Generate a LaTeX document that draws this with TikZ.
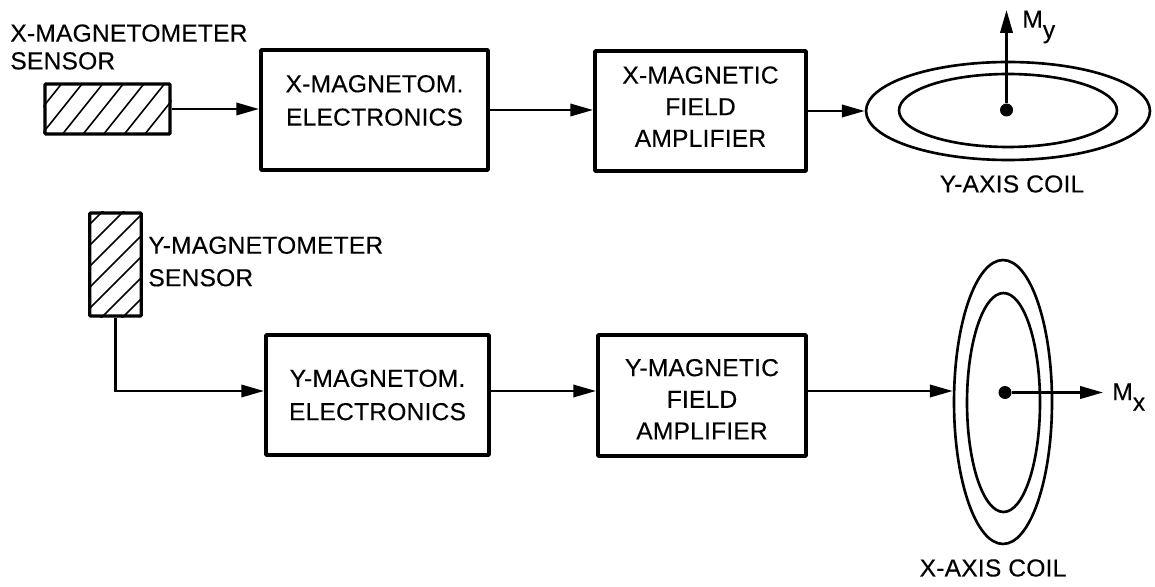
\documentclass[tikz,border=0pt]{standalone}
\usepackage{fontspec}
\setmainfont[LetterSpace=0.8,FakeBold=0.25]{Liberation Sans}
\usetikzlibrary{arrows.meta,shapes.geometric}

\newcommand{\lift}[1]{\rule[-#1]{0pt}{0pt}}
\newcommand{\drop}[1]{\rule{0pt}{#1}}

\tikzset{
  blockbox/.style={draw, line width=2.2pt, rounded corners=0.5pt, inner sep=0pt, align=center},
  sensorbox/.style={draw, line width=1.8pt, rounded corners=0.5pt, inner sep=0pt},
  coil/.style={draw, ellipse, line width=1.5pt, inner sep=0pt},
  hatch/.style={line width=0.9pt},
  caption/.style={inner sep=0pt, align=left},
  dotnode/.style={circle, fill, inner sep=0pt, minimum size=0.26cm},
  wire/.style={-{Triangle[length=13pt,width=7pt]}, line width=1.5pt}
}

\begin{document}
\begin{tikzpicture}[x=0.02cm, y=-0.02cm, font=\fontsize{14}{16}\selectfont]
  \useasboundingbox (0,0) rectangle (1155,587);
  \coordinate (yrow) at (0,391);

  % sensors
  \node[sensorbox, minimum width=2.5cm, minimum height=1cm] (xsensor) at (107.5,109) {};
  \node[sensorbox, minimum width=1.03cm, minimum height=2.06cm] (ysensor) at (115.5,264.5) {};
  \begin{scope}
    \clip (xsensor.south west) rectangle (xsensor.north east);
    \foreach \i in {-1,...,5}
      \draw[hatch] ({42+20.6*\i},134) -- ({82+20.6*\i},84);
  \end{scope}
  \begin{scope}
    \clip (ysensor.south west) rectangle (ysensor.north east);
    \foreach \i in {0,...,6}
      \draw[hatch] (89,{225+21*\i}) -- (141,{173+21*\i});
  \end{scope}
  \node[caption, anchor=west] (xsensortext) at (10,47) {X-MAGNETOMETER\\[-0.2pt]SENSOR};
  \node[caption, anchor=west] (ysensortext) at (148,261.5) {Y-MAGNETOMETER\\[2.5pt]SENSOR};

  % electronics and amplifiers
  \node[blockbox, minimum width=4.54cm, minimum height=2.4cm] (xelec) at (374.5,110) {X-MAGNETOM.\\[3pt]ELECTRONICS\lift{11pt}};
  \node[blockbox, minimum width=4.22cm, minimum height=2.4cm] (xamp) at (700.5,111) {X-MAGNETIC\\[2pt]FIELD\\[2pt]AMPLIFIER\lift{5pt}};
  \node[blockbox, minimum width=4.46cm, minimum height=2.4cm] (yelec) at (377.5,395) {Y-MAGNETOM.\\[3pt]ELECTRONICS};
  \node[blockbox, minimum width=4.16cm, minimum height=2.42cm] (yamp) at (702,395.5) {\drop{14pt}Y-MAGNETIC\\[2pt]FIELD\\[2pt]AMPLIFIER};

  % coils
  \node[coil, minimum width=5.68cm, minimum height=1.96cm] (ycoil) at (1008,111) {};
  \node[coil, minimum width=4.36cm, minimum height=1.46cm] (ycoilin) at (1008,110.5) {};
  \node[coil, minimum width=1.96cm, minimum height=5.68cm] (xcoil) at (1003,402) {};
  \node[coil, minimum width=1.46cm, minimum height=4.38cm] (xcoilin) at (1003.5,402.5) {};
  \node[dotnode] (ydot) at (1006.5,110) {};
  \node[dotnode] (xdot) at (1005,392.5) {};
  \coordinate (ytip) at (1006.5,10);
  \coordinate (xtip) at (1103,392.5);
  \node[caption, anchor=west] (ylabel) at (1022,27) {M\raisebox{-6pt}{y}};
  \node[caption, anchor=west] (xlabel) at (1112,397) {M\raisebox{-6pt}{x}};
  \node[caption] (ycoiltext) at (1012,184) {Y-AXIS COIL};
  \node[caption] (xcoiltext) at (993,568) {X-AXIS COIL};

  % connectors
  \draw[wire] (xsensor.east) -- (xsensor.east -| xelec.west);
  \draw[wire] (xelec.east) -- (xelec.east -| xamp.west);
  \draw[wire] (xamp.east) -- (ycoil.west);
  \draw[wire] (ysensor.south) |- (yelec.west |- yrow);
  \draw[wire] (yelec.east |- yrow) -- (yamp.west |- yrow);
  \draw[wire] (yamp.east |- yrow) -- (xcoil.west |- yrow);
  \draw[wire] (ydot) -- (ytip);
  \draw[wire] (xdot) -- (xtip);
\end{tikzpicture}
\end{document}
